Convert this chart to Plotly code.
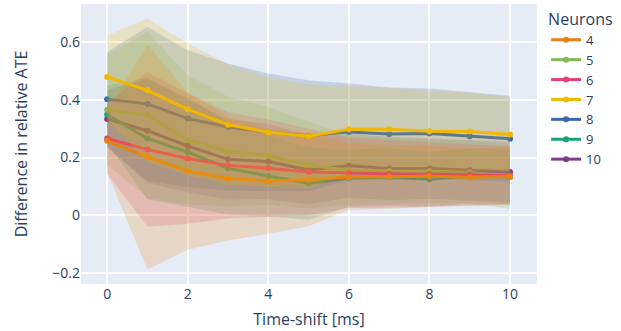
import plotly.graph_objects as go

time_shift = [0, 1, 2, 3, 4, 5, 6, 7, 8, 9, 10]

neurons = ["4", "5", "6", "7", "8", "9", "10"]

mean_4 = [0.258, 0.202, 0.153, 0.128, 0.118, 0.124, 0.133, 0.133, 0.135, 0.132, 0.135]
mean_5 = [0.366, 0.347, 0.261, 0.221, 0.206, 0.174, 0.156, 0.153, 0.153, 0.149, 0.133]
mean_6 = [0.266, 0.228, 0.197, 0.173, 0.163, 0.150, 0.147, 0.143, 0.142, 0.140, 0.138]
mean_7 = [0.479, 0.433, 0.367, 0.314, 0.288, 0.274, 0.298, 0.298, 0.291, 0.290, 0.280]
mean_8 = [0.402, 0.386, 0.335, 0.306, 0.288, 0.276, 0.289, 0.282, 0.283, 0.274, 0.265]
mean_9 = [0.349, 0.266, 0.219, 0.163, 0.136, 0.110, 0.129, 0.133, 0.125, 0.136, 0.133]
mean_10 = [0.334, 0.293, 0.240, 0.194, 0.186, 0.157, 0.172, 0.162, 0.162, 0.156, 0.150]

std_4 = [0.110, 0.390, 0.272, 0.215, 0.182, 0.162, 0.115, 0.110, 0.105, 0.100, 0.100]
std_5 = [0.190, 0.288, 0.224, 0.190, 0.170, 0.150, 0.120, 0.115, 0.110, 0.110, 0.110]
std_6 = [0.122, 0.268, 0.226, 0.184, 0.169, 0.150, 0.122, 0.118, 0.112, 0.105, 0.100]
std_7 = [0.145, 0.249, 0.228, 0.210, 0.190, 0.180, 0.150, 0.145, 0.140, 0.135, 0.130]
std_8 = [0.164, 0.267, 0.237, 0.220, 0.203, 0.192, 0.168, 0.161, 0.156, 0.153, 0.149]
std_9 = [0.100, 0.210, 0.190, 0.160, 0.140, 0.125, 0.100, 0.100, 0.095, 0.095, 0.095]
std_10 = [0.100, 0.180, 0.160, 0.140, 0.130, 0.120, 0.110, 0.110, 0.105, 0.105, 0.105]

colors = {
    "4": (230, 131, 16),
    "5": (128, 186, 90),
    "6": (231, 63, 116),
    "7": (242, 183, 1),
    "8": (57, 105, 172),
    "9": (17, 165, 121),
    "10": (127, 60, 141),
}

series = {
    "4": (mean_4, std_4),
    "5": (mean_5, std_5),
    "6": (mean_6, std_6),
    "7": (mean_7, std_7),
    "8": (mean_8, std_8),
    "9": (mean_9, std_9),
    "10": (mean_10, std_10),
}

# drawing order (bands of later groups sit over earlier lines)
draw_order = ["10", "9", "8", "5", "6", "4", "7"]

fig = go.Figure()
for name in draw_order:
    mean, std = series[name]
    r, g, b = colors[name]
    upper = [m + s for m, s in zip(mean, std)]
    lower = [m - s for m, s in zip(mean, std)]
    fig.add_trace(go.Scatter(
        x=time_shift + time_shift[::-1],
        y=upper + lower[::-1],
        fill="toself",
        fillcolor=f"rgba({r},{g},{b},0.2)",
        line=dict(color="rgba(0,0,0,0)"),
        hoverinfo="skip",
        showlegend=False,
    ))
    fig.add_trace(go.Scatter(
        x=time_shift,
        y=mean,
        mode="lines+markers",
        name=name,
        legendrank=neurons.index(name) + 1,
        line=dict(color=f"rgb({r},{g},{b})", width=3),
        marker=dict(size=6),
    ))

fig.update_layout(
    width=621,
    height=331,
    margin=dict(l=81, r=84, t=4, b=47),
    font=dict(family="Open Sans", size=13, color="#2a3f5f"),
    plot_bgcolor="#E5ECF6",
    paper_bgcolor="white",
    legend=dict(title=dict(text="Neurons", font=dict(size=16))),
    xaxis=dict(
        title=dict(text="Time-shift [ms]", font=dict(size=16), standoff=11),
        automargin=True,
        range=[-0.65, 10.67],
        tickvals=[0, 2, 4, 6, 8, 10],
        tickfont=dict(size=14),
        gridcolor="white",
        gridwidth=2,
        zeroline=False,
    ),
    yaxis=dict(
        title=dict(text="Difference in relative ATE", font=dict(size=16), standoff=20),
        automargin=True,
        range=[-0.238, 0.732],
        tickvals=[-0.2, 0, 0.2, 0.4, 0.6],
        ticktext=["\u22120.2", "0", "0.2", "0.4", "0.6"],
        tickfont=dict(size=14),
        gridcolor="white",
        gridwidth=2,
        zeroline=False,
    ),
)

fig.write_html("out.html")
